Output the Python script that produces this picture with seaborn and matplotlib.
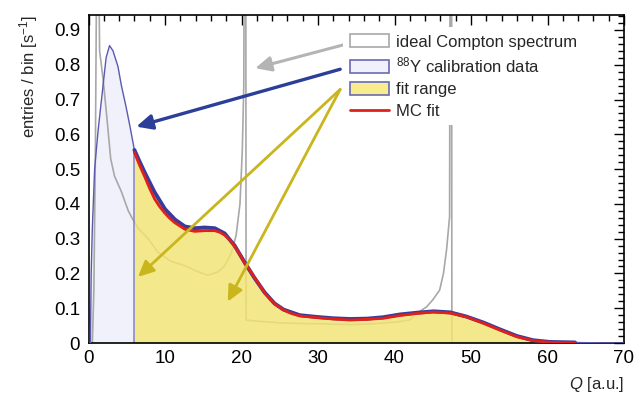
import numpy as np
import pandas as pd
import matplotlib
matplotlib.use("Agg")
import matplotlib.pyplot as plt
from matplotlib.patches import Patch
from matplotlib.lines import Line2D
from matplotlib.ticker import MultipleLocator, FuncFormatter
import seaborn as sns

# ---- data ----
q_data = [0.0, 0.25, 0.35, 0.5, 0.8, 1.25, 1.65, 1.9, 2.3, 2.75, 3.2, 3.85, 4.3, 4.9,
          5.4, 6.0, 6.5, 7.35, 8.6, 10.0, 11.3, 12.6, 13.9, 15.2, 16.5, 17.8, 19.1,
          20.4, 21.7, 23.0, 24.3, 25.5, 27.6, 29.8, 32.0, 34.2, 36.4, 38.5, 40.7,
          42.9, 45.1, 47.3, 49.4, 51.6, 53.8, 56.0, 58.1, 60.3, 62.5, 63.6, 65.0,
          67.0, 70.0]
y_data = [0.0, 0.0, 0.2, 0.33, 0.50, 0.61, 0.69, 0.74, 0.82, 0.855, 0.84, 0.795, 0.74,
          0.68, 0.625, 0.555, 0.53, 0.49, 0.435, 0.385, 0.355, 0.335, 0.33, 0.332,
          0.33, 0.315, 0.28, 0.232, 0.187, 0.146, 0.114, 0.096, 0.080, 0.075, 0.071,
          0.069, 0.070, 0.074, 0.082, 0.087, 0.091, 0.088, 0.076, 0.059, 0.039,
          0.020, 0.008, 0.003, 0.002, 0.0015, 0.001, 0.0005, 0.0]

q_fit = [6.0, 6.7, 7.35, 8.0, 8.65, 9.3, 9.96, 10.6, 11.27, 12.6, 13.9, 15.2, 16.5,
         17.2, 17.8, 18.5, 19.1, 19.8, 20.4, 21.1, 21.7, 22.4, 23.0, 23.7, 24.3, 25.5,
         26.5, 27.6, 29.8, 32.0, 34.2, 36.4, 38.5, 40.7, 42.9, 45.1, 47.3, 49.4,
         51.6, 53.8, 56.0, 58.1, 60.3, 62.0, 63.6]
y_fit = [0.548, 0.51, 0.478, 0.444, 0.414, 0.392, 0.374, 0.359, 0.346, 0.327, 0.321,
         0.323, 0.323, 0.318, 0.310, 0.296, 0.278, 0.254, 0.230, 0.209, 0.188, 0.166,
         0.145, 0.127, 0.113, 0.095, 0.085, 0.078, 0.073, 0.069, 0.066, 0.068, 0.071,
         0.079, 0.085, 0.089, 0.086, 0.075, 0.057, 0.037, 0.018, 0.007, 0.002,
         0.0008, 0.0]

q_ideal = [0.0, 0.5, 0.7, 0.9, 1.1, 1.3, 1.45, 1.9, 2.35, 2.9, 3.4, 4.3, 5.2, 5.8,
           6.5, 7.8, 9.1, 10.8, 12.6, 14.3, 15.6, 16.9, 17.8, 18.7, 19.3, 19.8, 20.1,
           20.3, 20.4, 20.55, 20.6, 22.0, 25.0, 28.0, 31.0, 34.2, 37.0, 40.0, 42.0,
           42.9, 44.2, 45.0, 45.9, 46.4, 46.8, 47.2, 47.3, 47.45, 47.5, 70.0]
y_ideal = [0.0, 0.0, 0.15, 0.55, 1.2, 1.2, 0.84, 0.76, 0.66, 0.53, 0.48, 0.435, 0.38,
           0.355, 0.33, 0.30, 0.26, 0.235, 0.222, 0.205, 0.195, 0.204, 0.222, 0.26,
           0.31, 0.40, 0.55, 0.74, 1.5, 1.5, 0.066, 0.063, 0.058, 0.056, 0.055, 0.053,
           0.055, 0.060, 0.066, 0.085, 0.104, 0.124, 0.152, 0.20, 0.267, 0.363, 1.5,
           1.5, 0.0, 0.0]

fit_lo, fit_hi = 6.0, 63.6
legend_labels = ["ideal Compton spectrum", r"$^{88}$Y calibration data", "fit range", "MC fit"]

# ---- style ----
sns.set_theme(style="white")
plt.rcParams["font.family"] = ["Liberation Sans", "DejaVu Sans"]
plt.rcParams["mathtext.fontset"] = "custom"
plt.rcParams["mathtext.rm"] = "Liberation Sans"
plt.rcParams["mathtext.it"] = "Liberation Sans:italic"

fig = plt.figure(figsize=(6.44, 4.04), dpi=100)
ax = fig.add_axes([88.5 / 644, 61 / 404, 535.5 / 644, 328 / 404])

df = pd.DataFrame({"Q": q_data, "y": y_data})
dfit = pd.DataFrame({"Q": q_fit, "y": y_fit})
dide = pd.DataFrame({"Q": q_ideal, "y": y_ideal})

lav = "#f1f1fb"
yel = "#f6e670"
blue_line = "#3b3b9c"
red = "#e0201b"
grey = "#a8a8a8"

# lavender fill under data
ax.fill_between(df["Q"], df["y"], color=lav, lw=0, zorder=0)
# ideal spectrum
sns.lineplot(data=dide, x="Q", y="y", ax=ax, color=grey, lw=1.2, zorder=1,
             estimator=None, sort=False)
# fit-range fill
m = (df["Q"] >= fit_lo) & (df["Q"] <= fit_hi)
ax.fill_between(df["Q"][m], df["y"][m], color=yel, alpha=0.8, lw=0, zorder=2)
ax.plot([fit_lo, fit_lo], [0, df["y"][m].iloc[0]], color="#8a8ab8", lw=1.2, zorder=2.5)
# data
sns.lineplot(data=df, x="Q", y="y", ax=ax, color="#5a5aae", lw=1.0, zorder=3,
             estimator=None, sort=False)
sns.lineplot(data=df[m], x="Q", y="y", ax=ax, color=blue_line, lw=2.8, zorder=3.2,
             estimator=None, sort=False)
# fit
sns.lineplot(data=dfit, x="Q", y="y", ax=ax, color=red, lw=2.0, zorder=4,
             estimator=None, sort=False)

# arrows
def arrow(start, end, color, lw):
    ax.annotate("", xy=end, xytext=start,
                arrowprops=dict(arrowstyle="-|>,head_length=0.95,head_width=0.45",
                                mutation_scale=10, color=color, lw=lw,
                                shrinkA=0, shrinkB=0), zorder=5)

arrow((33.3, 0.857), (21.8, 0.79), "#b4b4b4", 2.2)
arrow((32.9, 0.787), (6.25, 0.622), "#2b3f99", 2.4)
arrow((32.9, 0.729), (6.47, 0.19), "#c9b51c", 2.0)
arrow((32.9, 0.729), (18.2, 0.119), "#c9b51c", 2.0)

ax.set_xlim(0, 70)
ax.set_ylim(0, 0.943)
ax.xaxis.set_major_locator(MultipleLocator(10))
ax.xaxis.set_minor_locator(MultipleLocator(2))
ax.yaxis.set_major_locator(MultipleLocator(0.1))
ax.yaxis.set_minor_locator(MultipleLocator(0.02))
ax.yaxis.set_major_formatter(FuncFormatter(lambda v, p: f"{v:g}"))
ax.tick_params(which="both", direction="in", top=True, right=True, colors="black",
               width=1.0)
ax.tick_params(which="major", length=7.5, labelsize=13.5)
ax.tick_params(axis="x", which="major", pad=5)
ax.tick_params(axis="y", which="major", pad=6)
ax.tick_params(which="minor", length=4)
for s in ax.spines.values():
    s.set_color("black")
    s.set_linewidth(1.2)

ax.set_xlabel(r"$\it{Q}$ [a.u.]", loc="right", fontsize=12, labelpad=6)
ax.set_ylabel(r"entries / bin [s$^{-1}$]", loc="top", fontsize=12, labelpad=10)

handles = [Patch(facecolor="white", edgecolor="#a8a8a8", lw=1.2),
           Patch(facecolor=lav, edgecolor="#6a6ab5", lw=1.2),
           Patch(facecolor="#f8ec8c", edgecolor="#6a6ab5", lw=1.2),
           Line2D([0], [0], color=red, lw=2)]
leg = ax.legend(handles, legend_labels, loc="upper left",
                bbox_to_anchor=(0.475, 0.962), borderaxespad=0, fontsize=12,
                frameon=True, fancybox=False, framealpha=1, handlelength=2.35,
                handleheight=0.85, labelspacing=0.37, handletextpad=0.45,
                borderpad=0.4)
leg.get_frame().set_facecolor("white")
leg.get_frame().set_edgecolor("none")
leg.set_zorder(10)

fig.savefig("out.png", dpi=100)
